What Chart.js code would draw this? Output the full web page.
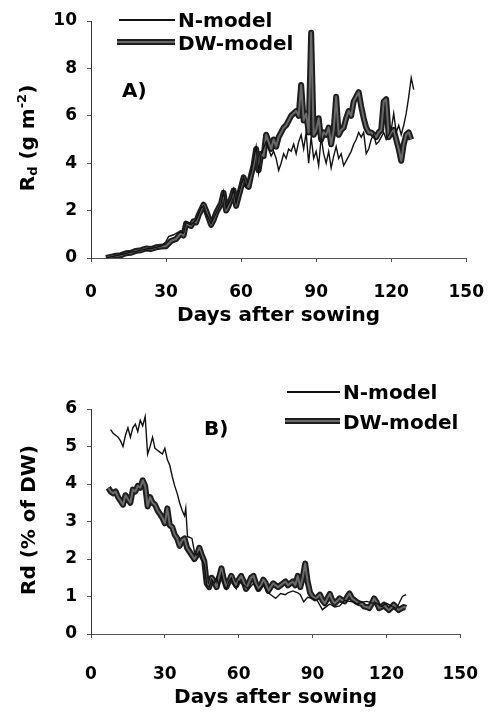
<!DOCTYPE html>
<html>
<head>
<meta charset="utf-8">
<script src="https://cdn.jsdelivr.net/npm/chart.js@4.4.1/dist/chart.umd.min.js"></script>
<style>
  html, body { margin: 0; padding: 0; background: #fff; }
  #page { position: relative; width: 504px; height: 712px; overflow: hidden; font-family: "DejaVu Sans", sans-serif; color: #000; }
  .cv { position: absolute; left: 0; }
  .txt { position: absolute; font-size: 20px; font-weight: bold; line-height: 20px; white-space: nowrap; }
  .ytitle { position: absolute; font-size: 20px; font-weight: bold; line-height: 20px; white-space: nowrap; transform: translate(-50%, -50%) rotate(-90deg); }
  .ytitle sub { font-size: 0.65em; vertical-align: -0.2em; line-height: 0; }
  .ytitle sup { font-size: 0.65em; vertical-align: 0.6em; line-height: 0; }
  .lnN { position: absolute; height: 2px; background: #111; }
  .lnDW { position: absolute; height: 2px; background: #6a6a6a; border-top: 2px solid #1e1e1e; border-bottom: 2px solid #1e1e1e; }
</style>
</head>
<body>
<div id="page">
  <div class="cv" style="top:0;width:504px;height:340px"><canvas id="chartA"></canvas></div>
  <div class="cv" style="top:340px;width:504px;height:372px"><canvas id="chartB"></canvas></div>

  <!-- panel A: legenda, etykieta, tytul osi Y -->
  <div class="lnN" style="left:119px;top:19px;width:56px"></div>
  <div class="txt" style="left:178px;top:10px">N-model</div>
  <div class="lnDW" style="left:117px;top:39px;width:58px"></div>
  <div class="txt" style="left:178px;top:33px">DW-model</div>
  <div class="txt" style="left:122px;top:80px">A)</div>
  <div class="ytitle" style="left:27px;top:138px">R<sub>d</sub> (g m<sup>-2</sup>)</div>

  <!-- panel B -->
  <div class="lnN" style="left:287px;top:391px;width:53px"></div>
  <div class="txt" style="left:343px;top:382px">N-model</div>
  <div class="lnDW" style="left:285px;top:418px;width:55px"></div>
  <div class="txt" style="left:343px;top:412px">DW-model</div>
  <div class="txt" style="left:204px;top:418px">B)</div>
  <div class="ytitle" style="left:28px;top:520px">Rd (% of DW)</div>
</div>

<script>
// Dni po siewie i Rd (g m-2) - panel A
const daysA_dw = [6, 8, 10, 12, 14, 16, 18, 20, 22, 24, 26, 28, 30, 32, 34, 36, 37, 38, 40, 41, 42, 43, 45, 46, 47, 48, 49, 50, 51, 52, 53, 54, 55, 56, 57, 58, 59, 60, 61, 62, 63, 64, 65, 66, 67, 68, 69, 70, 71, 72, 73, 74, 75, 76, 77, 78, 79, 80, 81, 82, 83, 84, 85, 86, 87, 88, 89, 90, 91, 92, 93, 94, 95, 96, 97, 98, 99, 100, 101, 102, 103, 104, 105, 106, 107, 108, 109, 110, 111, 112, 113, 114, 115, 116, 117, 118, 119, 120, 121, 122, 123, 124, 125, 126, 127, 128];
const rdA_dw = [0.0, 0.05, 0.1, 0.12, 0.2, 0.22, 0.3, 0.33, 0.4, 0.38, 0.45, 0.48, 0.5, 0.72, 0.8, 1.05, 0.95, 1.45, 1.35, 1.55, 1.5, 1.8, 2.25, 2.0, 1.7, 1.4, 1.6, 1.9, 2.1, 2.3, 2.75, 2.0, 2.2, 2.5, 2.85, 2.2, 2.6, 3.0, 3.4, 3.1, 3.0, 3.5, 3.9, 4.6, 3.7, 4.4, 4.3, 5.2, 4.9, 4.6, 5.0, 4.7, 5.1, 5.3, 5.5, 5.6, 5.8, 6.0, 6.1, 6.2, 6.0, 7.3, 5.8, 6.1, 5.3, 9.5, 5.2, 5.4, 5.9, 5.0, 5.3, 5.2, 5.5, 4.8, 5.4, 6.8, 5.2, 5.4, 5.5, 5.9, 6.2, 6.0, 6.6, 6.8, 7.0, 6.4, 5.9, 5.5, 5.3, 5.3, 5.2, 5.1, 5.3, 5.4, 6.6, 6.7, 5.1, 5.3, 5.4, 5.0, 4.6, 4.1, 4.8, 5.2, 5.3, 5.0];
const daysA_n = [6, 8, 10, 12, 14, 16, 18, 20, 22, 24, 26, 28, 30, 31, 33, 35, 37, 38, 40, 42, 44, 45, 46, 48, 50, 52, 53, 54, 56, 57, 58, 60, 61, 62, 64, 66, 67, 68, 70, 71, 72, 73, 74, 75, 76, 77, 78, 79, 80, 81, 82, 83, 84, 85, 86, 87, 88, 89, 90, 91, 92, 93, 94, 95, 96, 97, 98, 99, 100, 101, 102, 103, 104, 105, 106, 107, 108, 109, 110, 111, 112, 113, 114, 115, 116, 117, 118, 119, 120, 121, 122, 123, 124, 125, 126, 127, 128, 129];
const rdA_n = [0.0, 0.05, 0.1, 0.15, 0.2, 0.25, 0.28, 0.33, 0.38, 0.4, 0.45, 0.5, 0.7, 0.9, 0.98, 1.1, 1.05, 1.5, 1.4, 1.6, 2.1, 2.2, 1.9, 1.45, 1.9, 2.3, 2.8, 2.1, 2.5, 2.9, 2.3, 3.1, 3.4, 3.0, 3.6, 4.7, 3.6, 4.4, 4.9, 4.6, 4.3, 4.5, 4.2, 3.7, 4.0, 4.4, 4.2, 4.6, 4.5, 4.8, 4.4, 4.9, 5.2, 4.6, 5.3, 4.0, 5.1, 4.2, 4.5, 3.9, 5.1, 4.4, 4.0, 4.5, 3.8, 4.3, 4.7, 4.2, 4.4, 3.9, 4.1, 4.3, 4.5, 4.8, 5.0, 5.3, 5.1, 5.3, 4.4, 4.6, 5.0, 5.2, 4.8, 4.9, 5.1, 5.3, 5.0, 5.2, 5.4, 6.1, 5.3, 5.6, 5.2, 5.6, 6.1, 6.8, 7.6, 7.1];

// Rd (% of DW) - panel B
const daysB_dw = [7, 8, 9, 10, 11, 12, 13, 14, 15, 16, 17, 18, 19, 20, 21, 22, 23, 24, 25, 26, 27, 28, 29, 30, 31, 32, 33, 34, 35, 36, 37, 38, 39, 40, 41, 42, 43, 44, 45, 46, 47, 48, 49, 50, 51, 52, 53, 54, 55, 56, 57, 58, 59, 60, 61, 62, 63, 64, 65, 66, 67, 68, 69, 70, 71, 72, 73, 74, 75, 76, 77, 78, 79, 80, 81, 82, 83, 84, 85, 86, 87, 88, 89, 90, 91, 92, 93, 94, 95, 96, 97, 98, 99, 100, 101, 102, 103, 104, 105, 106, 107, 108, 109, 110, 111, 112, 113, 114, 115, 116, 117, 118, 119, 120, 121, 122, 123, 124, 125, 126, 127, 128];
const rdB_dw = [3.9, 3.8, 3.75, 3.8, 3.65, 3.55, 3.45, 3.7, 3.6, 3.5, 3.85, 3.8, 3.95, 3.9, 4.1, 3.95, 3.4, 3.65, 3.5, 3.45, 3.3, 3.2, 3.1, 2.95, 3.35, 2.9, 2.85, 2.65, 2.55, 2.35, 2.5, 2.55, 2.3, 2.2, 2.1, 2.0, 2.1, 2.3, 2.1, 1.95, 1.35, 1.25, 1.5, 1.4, 1.25, 1.5, 1.75, 1.45, 1.25, 1.4, 1.55, 1.4, 1.3, 1.45, 1.55, 1.4, 1.2, 1.35, 1.5, 1.55, 1.35, 1.2, 1.3, 1.45, 1.35, 1.15, 1.25, 1.35, 1.3, 1.25, 1.3, 1.35, 1.4, 1.3, 1.35, 1.4, 1.3, 1.55, 1.25, 1.5, 1.88, 1.4, 1.1, 1.0, 0.95, 0.98, 1.05, 0.9, 0.82, 0.95, 1.07, 0.9, 0.82, 0.88, 0.95, 0.9, 0.87, 0.98, 1.08, 0.95, 0.9, 0.85, 0.82, 0.8, 0.73, 0.72, 0.69, 0.8, 0.95, 0.85, 0.69, 0.72, 0.78, 0.7, 0.64, 0.7, 0.78, 0.7, 0.64, 0.68, 0.72, 0.7];
const daysB_n = [8, 9, 10, 11, 12, 13, 14, 15, 16, 17, 18, 19, 20, 21, 22, 23, 24, 25, 26, 27, 28, 29, 30, 31, 32, 33, 34, 35, 36, 37, 38, 38.5, 39.2, 41, 42, 43, 44, 45, 46, 47, 48, 49, 50, 51, 52, 53, 54, 55, 56, 57, 58, 59, 60, 62, 64, 66, 68, 70, 72, 74, 75, 77, 79, 80, 82, 84, 85, 86.4, 88, 90, 92, 94, 96, 97, 99, 101, 103, 105, 107, 108, 110, 112, 114, 116, 118, 120, 122, 124, 125, 126.5, 128];
const rdB_n = [5.45, 5.35, 5.3, 5.25, 5.15, 5.0, 5.3, 5.5, 5.25, 5.5, 5.6, 5.4, 5.7, 5.55, 5.8, 4.8, 5.0, 5.25, 4.95, 4.9, 4.85, 4.8, 4.95, 4.65, 4.5, 4.2, 3.95, 3.75, 3.5, 3.3, 3.15, 3.35, 2.6, 2.55, 2.2, 2.1, 2.2, 2.0, 1.85, 1.3, 1.25, 1.45, 1.35, 1.5, 1.3, 1.6, 1.3, 1.2, 1.4, 1.5, 1.3, 1.2, 1.4, 1.3, 1.2, 1.35, 1.15, 1.3, 1.1, 1.0, 0.95, 1.08, 1.05, 1.1, 1.15, 1.1, 1.05, 0.86, 0.98, 0.95, 0.88, 0.65, 0.75, 0.8, 0.72, 0.75, 0.9, 0.87, 0.85, 0.8, 0.85, 0.87, 0.83, 0.82, 0.73, 0.82, 0.75, 0.68, 0.8, 1.0, 1.05];

// Podzialki osi
const xTickValues = [0, 30, 60, 90, 120, 150];
const yTicksA = [0, 2, 4, 6, 8, 10];
const yTicksB = [0, 1, 2, 3, 4, 5, 6];

Chart.defaults.font.family = "'DejaVu Sans', sans-serif";
Chart.defaults.font.weight = "bold";
Chart.defaults.color = "#000";

const pts = (days, vals) => days.map((d, i) => ({ x: d, y: vals[i] }));

function buildDatasets(dN, vN, dDW, vDW) {
  return [
    { data: pts(dN, vN), borderColor: "#111", borderWidth: 1.4, order: 0 },
    { data: pts(dDW, vDW), borderColor: "#6a6a6a", borderWidth: 2, order: 1, borderJoinStyle: "round" },
    { data: pts(dDW, vDW), borderColor: "#1e1e1e", borderWidth: 6, order: 2, borderJoinStyle: "round" },
  ];
}

function makeChart(id, datasets, yTicks, yMax, topPad, xHeight, tickPad, titlePad) {
  return new Chart(document.getElementById(id), {
    type: "line",
    data: { datasets },
    options: {
      responsive: true,
      maintainAspectRatio: false,
      animation: false,
      layout: { padding: { left: 0, right: 21, top: topPad, bottom: 0 } },
      elements: { point: { radius: 0 }, line: { tension: 0 } },
      plugins: { legend: { display: false }, tooltip: { enabled: false } },
      scales: {
        x: {
          type: "linear",
          min: 0,
          max: 150,
          afterBuildTicks: (s) => { s.ticks = xTickValues.map((v) => ({ value: v })); },
          afterFit: (s) => { s.height = xHeight; },
          grid: { drawOnChartArea: false, tickLength: 4, color: "#555" },
          border: { color: "#555", width: 1, dash: [2, 2] },
          ticks: { padding: tickPad, font: { size: 17 }, maxRotation: 0 },
          title: { display: true, text: "Days after sowing", font: { size: 20 }, padding: { top: 0, bottom: titlePad } },
        },
        y: {
          min: 0,
          max: yMax,
          afterBuildTicks: (s) => { s.ticks = yTicks.map((v) => ({ value: v })); },
          afterFit: (s) => { s.width = 91; },
          grid: { drawOnChartArea: false, tickLength: 4, color: "#555" },
          border: { color: "#333", width: 1 },
          ticks: { padding: 10, font: { size: 17 } },
        },
      },
    },
  });
}

makeChart("chartA", buildDatasets(daysA_n, rdA_n, daysA_dw, rdA_dw), yTicksA, 10, 21, 82, 20, 12);
makeChart("chartB", buildDatasets(daysB_n, rdB_n, daysB_dw, rdB_dw), yTicksB, 6, 69, 78, 26, 2);
</script>
</body>
</html>
